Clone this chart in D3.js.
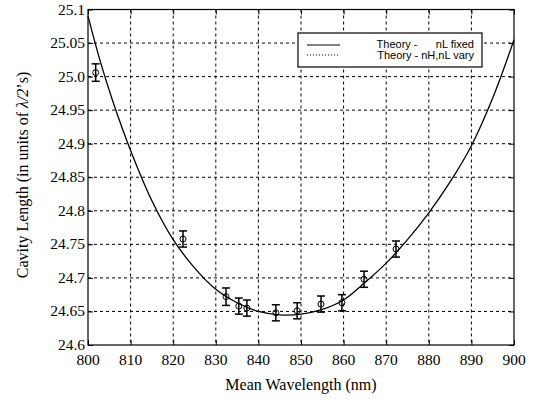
<!DOCTYPE html>
<html>
<head>
<meta charset="utf-8">
<script src="https://cdn.jsdelivr.net/npm/d3@7"></script>
<style>
  body { margin: 0; background: #fff; }
  svg { display: block; }
  text { font-family: "Liberation Serif", "Times New Roman", serif; }
</style>
</head>
<body>
<div id="chart"></div>
<script>
// measured points
const wavelength = [801.8, 822.3, 832.4, 835.4, 837.3, 844.1, 849.1, 854.7, 859.6, 864.8, 872.3];
const cavity = [25.006, 24.758, 24.672, 24.658, 24.655, 24.648, 24.651, 24.661, 24.663, 24.698, 24.743];
const errBar = [0.013, 0.012, 0.013, 0.012, 0.012, 0.012, 0.012, 0.012, 0.012, 0.012, 0.012];

// theory curve
const theoryX = [800, 803, 806, 810, 815, 820, 825, 830, 835, 840, 845, 850, 855, 860, 865, 870, 875, 880, 885, 890, 895, 900];
const theoryY = [25.09, 25.02, 24.96, 24.89, 24.815, 24.757, 24.715, 24.683, 24.663, 24.65, 24.645, 24.646, 24.653, 24.667, 24.693, 24.722, 24.757, 24.797, 24.843, 24.897, 24.968, 25.055];

const xTicks = [800, 810, 820, 830, 840, 850, 860, 870, 880, 890, 900];
const yTicks = [24.6, 24.65, 24.7, 24.75, 24.8, 24.85, 24.9, 24.95, 25.0, 25.05, 25.1];
const yTickLabels = ["24.6", "24.65", "24.7", "24.75", "24.8", "24.85", "24.9", "24.95", "25.0", "25.05", "25.1"];

const legendLabels = ["Theory -      nL fixed", "Theory - nH,nL vary"];

const w = 539, h = 405;
const margin = { top: 9.5, right: 25, bottom: 60, left: 88 };
const plotW = w - margin.left - margin.right;
const plotH = h - margin.top - margin.bottom;
const serif = "Liberation Serif";

const xScale = d3.scaleLinear().domain([800, 900]).range([0, plotW]);
const yScale = d3.scaleLinear().domain([24.6, 25.1]).range([plotH, 0]);

const svg = d3.select("#chart").append("svg")
  .attr("width", w)
  .attr("height", h);

const g = svg.append("g")
  .attr("transform", "translate(" + margin.left + "," + margin.top + ")");

// grid
g.selectAll(".vgrid")
  .data(xTicks.slice(1, -1))
  .enter().append("line")
  .attr("x1", d => xScale(d)).attr("x2", d => xScale(d))
  .attr("y1", 0).attr("y2", plotH)
  .attr("stroke", "#000").attr("stroke-width", 1)
  .attr("stroke-dasharray", "3,3");

g.selectAll(".hgrid")
  .data(yTicks.slice(1, -1))
  .enter().append("line")
  .attr("x1", 0).attr("x2", plotW)
  .attr("y1", d => yScale(d)).attr("y2", d => yScale(d))
  .attr("stroke", "#000").attr("stroke-width", 1)
  .attr("stroke-dasharray", "3,3");

// inner ticks on all four sides (axes with no labels)
const tl = 5;
[[d3.axisBottom, plotH], [d3.axisTop, 0]].forEach(([ax, y]) => {
  g.append("g").attr("transform", "translate(0," + y + ")")
    .call(ax(xScale).tickValues(xTicks).tickSize(y ? -tl : -tl).tickFormat(""))
    .call(s => s.select(".domain").remove());
});
[[d3.axisLeft, 0], [d3.axisRight, plotW]].forEach(([ax, x]) => {
  g.append("g").attr("transform", "translate(" + x + ",0)")
    .call(ax(yScale).tickValues(yTicks).tickSize(-tl).tickFormat(""))
    .call(s => s.select(".domain").remove());
});

// tick labels
g.selectAll(".xl").data(xTicks).enter().append("text")
  .attr("x", d => xScale(d))
  .attr("y", plotH + 20)
  .attr("text-anchor", "middle")
  .attr("font-family", serif)
  .attr("font-size", "15.5px")
  .text(d => d);

g.selectAll(".yl").data(yTicks).enter().append("text")
  .attr("x", -3)
  .attr("y", d => yScale(d) + 5)
  .attr("text-anchor", "end")
  .attr("font-family", serif)
  .attr("font-size", "15.5px")
  .text((d, i) => yTickLabels[i]);

// frame
g.append("rect")
  .attr("width", plotW).attr("height", plotH)
  .attr("fill", "none").attr("stroke", "#000").attr("stroke-width", 1.2);

// theory line
const line = d3.line()
  .x(d => xScale(d[0]))
  .y(d => yScale(d[1]))
  .curve(d3.curveCatmullRom.alpha(0.5));

g.append("path")
  .datum(theoryX.map((x, i) => [x, theoryY[i]]))
  .attr("d", line)
  .attr("fill", "none")
  .attr("stroke", "#000")
  .attr("stroke-width", 1.3);

// error bars
const pts = wavelength.map((x, i) => ({ x: x, y: cavity[i], e: errBar[i] }));
const cap = 4;
const eb = g.selectAll(".eb").data(pts).enter().append("g");
eb.append("line")
  .attr("x1", d => xScale(d.x)).attr("x2", d => xScale(d.x))
  .attr("y1", d => yScale(d.y + d.e)).attr("y2", d => yScale(d.y - d.e))
  .attr("stroke", "#000").attr("stroke-width", 1.5);
eb.append("line")
  .attr("x1", d => xScale(d.x) - cap).attr("x2", d => xScale(d.x) + cap)
  .attr("y1", d => yScale(d.y + d.e)).attr("y2", d => yScale(d.y + d.e))
  .attr("stroke", "#000").attr("stroke-width", 1.5);
eb.append("line")
  .attr("x1", d => xScale(d.x) - cap).attr("x2", d => xScale(d.x) + cap)
  .attr("y1", d => yScale(d.y - d.e)).attr("y2", d => yScale(d.y - d.e))
  .attr("stroke", "#000").attr("stroke-width", 1.5);
eb.append("circle")
  .attr("cx", d => xScale(d.x)).attr("cy", d => yScale(d.y))
  .attr("r", 3)
  .attr("fill", "none").attr("stroke", "#000").attr("stroke-width", 1);

// legend
const lg = svg.append("g").attr("transform", "translate(298,33)");
lg.append("rect")
  .attr("width", 184).attr("height", 34)
  .attr("fill", "#fff").attr("stroke", "#000").attr("stroke-width", 1.2);
lg.append("line").attr("x1", 9).attr("x2", 42).attr("y1", 12).attr("y2", 12)
  .attr("stroke", "#000").attr("stroke-width", 1);
lg.append("line").attr("x1", 9).attr("x2", 42).attr("y1", 22).attr("y2", 22)
  .attr("stroke", "#000").attr("stroke-width", 1).attr("stroke-dasharray", "1,2");
lg.selectAll(".lt").data(legendLabels).enter().append("text")
  .attr("x", 176)
  .attr("y", (d, i) => 15 + i * 10.5)
  .attr("text-anchor", "end")
  .style("font-family", "'Liberation Sans', Arial, sans-serif")
  .attr("font-size", "11px")
  .attr("xml:space", "preserve")
  .style("white-space", "pre")
  .text(d => d);

// axis titles
svg.append("text")
  .attr("x", margin.left + plotW / 2)
  .attr("y", 390)
  .attr("text-anchor", "middle")
  .attr("font-family", serif)
  .attr("font-size", "16px")
  .text("Mean Wavelength (nm)");

const yt = svg.append("text")
  .attr("transform", "translate(28," + 175 + ") rotate(-90)")
  .attr("text-anchor", "middle")
  .attr("font-family", serif)
  .attr("font-size", "16px");
yt.append("tspan").text("Cavity Length (in units of ");
yt.append("tspan").attr("font-style", "italic").text("\u03bb/2");
yt.append("tspan").text("\u2019s)");
</script>
</body>
</html>
